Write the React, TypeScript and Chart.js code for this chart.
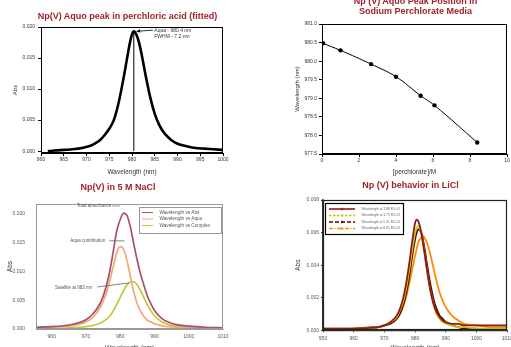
import React, { useEffect, useRef } from "react";
import { Chart, registerables } from "chart.js";
Chart.register(...registerables);

const FONT = "'Liberation Sans', Arial, Helvetica, sans-serif";
const TITLE_RED = "#a0232b";

// ---------- Panel A: Np(V) aquo peak in perchloric acid ----------
const aTitle = "Np(V) Aquo peak in perchloric acid (fitted)";
const aWavelength = [961.5, 963, 965, 967, 969, 970, 971, 972, 973, 974, 975, 976, 977, 978, 979, 979.5, 980, 980.4, 981, 981.5, 982, 983, 984, 985, 986, 987, 988, 989, 990, 992, 994, 996, 998, 1000];
const aAbs = [0.0, 0.0001, 0.0002, 0.0003, 0.0005, 0.0007, 0.0009, 0.0013, 0.0018, 0.0026, 0.0036, 0.005, 0.0076, 0.0112, 0.0153, 0.0173, 0.0188, 0.0193, 0.0187, 0.0176, 0.016, 0.0122, 0.0087, 0.006, 0.0042, 0.003, 0.0022, 0.0016, 0.0012, 0.0008, 0.0005, 0.0004, 0.0003, 0.0002];
const aPeakWavelength = 980.4;
const aPeakAbs = 0.0193;
const aXTicks = [960, 965, 970, 975, 980, 985, 990, 995, 1000];
const aYTicks = [0, 0.005, 0.01, 0.015, 0.02];
const aNote1 = "Aqua - 980.4 nm";
const aNote2 = "FWHM - 7.2 nm";

// ---------- Panel B: peak position vs perchlorate ----------
const bTitle = ["Np (V) Aquo Peak Position in", "Sodium Perchlorate Media"];
const bPerchlorate = [0.05, 1.0, 2.65, 4.0, 5.33, 6.08, 8.39];
const bPeakWavelength = [980.48, 980.29, 979.92, 979.58, 979.07, 978.81, 977.81];
const bXTicks = [0, 2, 4, 6, 8, 10];
const bYTicks = [977.5, 978, 978.5, 979, 979.5, 980, 980.5, 981];

// ---------- Panel C: Np(V) in 5 M NaCl ----------
const cTitle = "Np(V) in 5 M NaCl";
const cWavelength = [955, 960, 965, 968, 970, 972, 974, 975, 976, 977, 978, 979, 980, 981, 982, 983, 984, 985, 986, 987, 988, 989, 990, 992, 994, 996, 1000, 1005, 1010];
const cTotal = [0.0003, 0.0004, 0.0007, 0.0011, 0.0016, 0.0026, 0.0043, 0.0057, 0.0076, 0.0102, 0.0136, 0.0171, 0.019, 0.0201, 0.0197, 0.0176, 0.0146, 0.0118, 0.0094, 0.0074, 0.0056, 0.0043, 0.0032, 0.0019, 0.0012, 0.0008, 0.0005, 0.0003, 0.0002];
const cAqua = [0.0002, 0.0003, 0.0005, 0.0008, 0.0012, 0.002, 0.0036, 0.0048, 0.0064, 0.0085, 0.011, 0.0133, 0.0143, 0.0138, 0.0118, 0.009, 0.0063, 0.0043, 0.003, 0.0021, 0.0015, 0.0012, 0.0009, 0.0006, 0.0004, 0.0003, 0.0002, 0.0001, 0.0001];
const cComplex = [0.0001, 0.0001, 0.0002, 0.0003, 0.0004, 0.0006, 0.001, 0.0013, 0.0017, 0.0023, 0.0032, 0.0043, 0.0055, 0.0067, 0.0077, 0.0082, 0.0082, 0.0076, 0.0066, 0.0053, 0.0041, 0.0031, 0.0023, 0.0013, 0.0008, 0.0005, 0.0003, 0.0002, 0.0001];
const cLabels = ["Wavelength vs Abs", "Wavelength vs Aquo", "Wavelength vs Complex"];
const cColors = ["#a4526e", "#f5a774", "#c3c83a"];
const cXTicks = [960, 970, 980, 990, 1000, 1010];
const cYTicks = [0, 0.005, 0.01, 0.015, 0.02];
const cNotes = ["Total absorbance", "Aqua contribution", "Satellite at 983 nm"];

// ---------- Panel D: Np(V) behavior in LiCl ----------
const dTitle = "Np (V) behavior in LiCl";
const dWavelength = [950, 955, 960, 965, 968, 970, 972, 974, 975, 976, 977, 978, 979, 980, 980.5, 981, 982, 982.5, 983, 984, 985, 986, 987, 988, 989, 990, 992, 994, 996, 1000, 1005, 1010];
const dLiCl188 = [0.0001, 0.0001, 0.0001, 0.00015, 0.0002, 0.0003, 0.0005, 0.0009, 0.0013, 0.0019, 0.0028, 0.004, 0.0054, 0.0066, 0.0068, 0.0067, 0.006, 0.0054, 0.0048, 0.0035, 0.0024, 0.0016, 0.0011, 0.0008, 0.0006, 0.0005, 0.0004, 0.0004, 0.0003, 0.0003, 0.0003, 0.0003];
const dLiCl375 = [0.0001, 0.0001, 0.0001, 0.00015, 0.0002, 0.0003, 0.0005, 0.0008, 0.0012, 0.0017, 0.0025, 0.0036, 0.0049, 0.006, 0.0063, 0.0064, 0.0059, 0.0054, 0.0048, 0.0035, 0.0024, 0.0016, 0.001, 0.0007, 0.0005, 0.0004, 0.0003, 0.0002, 0.0002, 0.0001, 0.0001, 0.0001];
const dLiCl501 = [0.0, 0.0, 0.0001, 0.00015, 0.0002, 0.0003, 0.0004, 0.0007, 0.001, 0.0015, 0.0022, 0.0032, 0.0045, 0.0056, 0.006, 0.0062, 0.006, 0.0056, 0.0051, 0.0039, 0.0028, 0.0019, 0.0013, 0.0009, 0.0007, 0.0005, 0.0003, 0.0002, 0.0001, 0.0001, 0.0, 0.0];
const dLiCl691 = [0.0001, 0.0001, 0.0001, 0.0002, 0.0002, 0.0003, 0.0005, 0.0008, 0.001, 0.0014, 0.002, 0.0028, 0.0037, 0.0046, 0.005, 0.0054, 0.0057, 0.0058, 0.0057, 0.0053, 0.0046, 0.0038, 0.003, 0.0023, 0.0018, 0.0014, 0.0009, 0.0006, 0.0004, 0.0003, 0.0002, 0.0002];
const dLabels = ["Wavelength at 1.88 M LiCl", "Wavelength at 3.75 M LiCl", "Wavelength at 5.01 M LiCl", "Wavelength at 6.91 M LiCl"];
const dColors = ["#8e1b1b", "#c8cc00", "#5c0606", "#ff8a00"];
const dDashes: number[][] = [[], [2.5, 1.5], [4, 2], [4, 1.5, 1, 1.5]];
const dXTicks = [950, 960, 970, 980, 990, 1000, 1010];
const dYTicks = [0, 0.002, 0.004, 0.006, 0.008];

// ---------- helpers ----------
const pts = (xs: number[], ys: number[]) => xs.map((x, i) => ({ x, y: ys[i] }));

type AxisSpec = {
  min: number; max: number; ticks: number[]; decimals: number; title: string;
  size: number; tickLen: number; pad: number; color: string; labelColor: string;
  titleColor: string; titleSize: number; titlePad: number; borderWidth: number; tickSize?: number;
};

function linearAxis(axis: "x" | "y", s: AxisSpec) {
  return {
    type: "linear",
    position: axis === "x" ? "bottom" : "left",
    min: s.min,
    max: s.max,
    afterBuildTicks: (sc: any) => { sc.ticks = s.ticks.map((v) => ({ value: v })); },
    afterFit: (sc: any) => {
      if (axis === "x") sc.height = s.size; else sc.width = s.size;
      sc.paddingLeft = 0; sc.paddingRight = 0; sc.paddingTop = 0; sc.paddingBottom = 0;
    },
    grid: { display: true, drawOnChartArea: false, drawTicks: s.tickLen > 0, tickLength: s.tickLen, color: s.color, lineWidth: 1 },
    border: { display: true, color: s.color, width: s.borderWidth },
    ticks: {
      autoSkip: false, maxRotation: 0, minRotation: 0, padding: s.pad, color: s.labelColor,
      font: { family: FONT, size: s.tickSize ?? 5 },
      callback: (v: any) => Number(v).toFixed(s.decimals),
    },
    title: {
      display: true, text: s.title, color: s.titleColor,
      font: { family: FONT, size: s.titleSize },
      padding: axis === "x" ? { top: 0, bottom: s.titlePad } : { top: s.titlePad, bottom: 0 },
    },
  };
}

const framePlugin = (color: string, width: number) => ({
  id: "frame",
  afterDatasetsDraw(chart: any) {
    const { left, top, right, bottom } = chart.chartArea;
    const ctx = chart.ctx;
    ctx.save();
    ctx.strokeStyle = color;
    ctx.lineWidth = width;
    const l = Math.round(left) + 0.5, t = Math.round(top) + 0.5;
    const r = Math.round(right) - 0.5, b = Math.round(bottom) - 0.5;
    ctx.strokeRect(l, t, r - l, b - t);
    ctx.restore();
  },
});

type Note =
  | { kind: "text"; x: number; y: number; text: string; align: "left" | "center"; size: number; color: string }
  | { kind: "line"; x1: number; y1: number; x2: number; y2: number; color: string; width: number; arrow?: boolean };

const notesPlugin = (notes: Note[]) => ({
  id: "notes",
  afterDatasetsDraw(chart: any) {
    const ctx = chart.ctx;
    const sx = chart.scales.x, sy = chart.scales.y;
    ctx.save();
    for (const n of notes) {
      if (n.kind === "text") {
        ctx.fillStyle = n.color;
        ctx.font = `${n.size}px ${FONT}`;
        ctx.textAlign = n.align;
        ctx.textBaseline = "middle";
        ctx.fillText(n.text, sx.getPixelForValue(n.x), sy.getPixelForValue(n.y));
      } else {
        const x1 = sx.getPixelForValue(n.x1), y1 = sy.getPixelForValue(n.y1);
        const x2 = sx.getPixelForValue(n.x2), y2 = sy.getPixelForValue(n.y2);
        ctx.strokeStyle = n.color;
        ctx.lineWidth = n.width;
        ctx.beginPath(); ctx.moveTo(x1, y1); ctx.lineTo(x2, y2); ctx.stroke();
        if (n.arrow) {
          const ang = Math.atan2(y2 - y1, x2 - x1);
          const L = 4, W = 0.45;
          ctx.fillStyle = n.color;
          ctx.beginPath();
          ctx.moveTo(x2, y2);
          ctx.lineTo(x2 - L * Math.cos(ang - W), y2 - L * Math.sin(ang - W));
          ctx.lineTo(x2 - L * Math.cos(ang + W), y2 - L * Math.sin(ang + W));
          ctx.closePath(); ctx.fill();
        }
      }
    }
    ctx.restore();
  },
});

type LegendSpec = {
  box: { x: number; y: number; w: number; h: number };
  rows: number[]; x1: number; x2: number; textX: number; size: number;
  textColor: string; borderColor: string; borderWidth: number; dashes?: number[][]; lineWidth: number; marker?: boolean;
};

const boxLegendPlugin = (spec: LegendSpec) => ({
  id: "boxLegend",
  afterDraw(chart: any) {
    const ctx = chart.ctx;
    ctx.save();
    const b = spec.box;
    ctx.fillStyle = "#fff";
    ctx.fillRect(b.x, b.y, b.w, b.h);
    ctx.strokeStyle = spec.borderColor;
    ctx.lineWidth = spec.borderWidth;
    ctx.strokeRect(b.x + 0.5, b.y + 0.5, b.w, b.h);
    chart.data.datasets.forEach((ds: any, i: number) => {
      const y = spec.rows[i];
      ctx.strokeStyle = ds.borderColor;
      ctx.lineWidth = spec.lineWidth;
      ctx.setLineDash(spec.dashes ? spec.dashes[i] : []);
      ctx.beginPath(); ctx.moveTo(spec.x1, y); ctx.lineTo(spec.x2, y); ctx.stroke();
      ctx.setLineDash([]);
      if (spec.marker) {
        ctx.beginPath(); ctx.moveTo((spec.x1 + spec.x2) / 2, y - 1.2); ctx.lineTo((spec.x1 + spec.x2) / 2, y + 1.2); ctx.stroke();
      }
      ctx.fillStyle = spec.textColor;
      ctx.font = `${spec.size}px ${FONT}`;
      ctx.textAlign = "left";
      ctx.textBaseline = "middle";
      ctx.fillText(ds.label, spec.textX, y);
    });
    ctx.restore();
  },
});

const baseOptions = (padding: any, scales: any) => ({
  responsive: false,
  animation: false,
  devicePixelRatio: 1,
  layout: { padding },
  plugins: { legend: { display: false }, tooltip: { enabled: false }, title: { display: false } },
  scales,
});

// ---------- chart builders ----------
function buildA() {
  return {
    type: "line",
    data: {
      datasets: [
        { label: "Fit", data: pts(aWavelength, aAbs), borderColor: "#000", borderWidth: 2.6, pointRadius: 0, cubicInterpolationMode: "monotone", fill: false },
        { label: "Peak", data: [{ x: aPeakWavelength, y: 0 }, { x: aPeakWavelength, y: aPeakAbs }], borderColor: "#000", borderWidth: 1, pointRadius: 0, fill: false },
      ],
    },
    options: baseOptions({ left: 10, top: 27, right: 32, bottom: 0 }, {
      x: linearAxis("x", { min: 960, max: 1000, ticks: aXTicks, decimals: 0, title: "Wavelength (nm)", size: 27, tickLen: 3, pad: 1, color: "#000", labelColor: "#333", titleColor: "#333", titleSize: 6.5, titlePad: 3.6, borderWidth: 1 }),
      y: linearAxis("y", { min: -0.0003, max: 0.02, ticks: aYTicks, decimals: 3, title: "Abs", size: 31, tickLen: 3, pad: 3, color: "#000", labelColor: "#333", titleColor: "#333", titleSize: 6, titlePad: 1.4, borderWidth: 1 }),
    }),
    plugins: [
      framePlugin("#000", 1),
      notesPlugin([
        { kind: "line", x1: 984.6, y1: 0.0195, x2: 981.0, y2: 0.0193, color: "#000", width: 0.8, arrow: true },
        { kind: "text", x: 984.9, y: 0.01945, text: aNote1, align: "left", size: 5, color: "#333" },
        { kind: "text", x: 984.9, y: 0.01852, text: aNote2, align: "left", size: 5, color: "#333" },
      ]),
    ],
  };
}

function buildB() {
  return {
    type: "line",
    data: {
      datasets: [
        { label: "Peak position", data: pts(bPerchlorate, bPeakWavelength), borderColor: "#000", backgroundColor: "#000", borderWidth: 1, pointRadius: 2.2, pointBorderWidth: 0, tension: 0.4, fill: false },
      ],
    },
    options: baseOptions({ left: 37, top: 24, right: 3, bottom: 0 }, {
      x: linearAxis("x", { min: 0, max: 10, ticks: bXTicks, decimals: 0, title: "[perchlorate]/M", size: 26, tickLen: 3, pad: 1, color: "#000", labelColor: "#333", titleColor: "#333", titleSize: 6.5, titlePad: 3.6, borderWidth: 1 }),
      y: linearAxis("y", { min: 977.5, max: 981, ticks: bYTicks, decimals: 1, title: "Wavelength (nm)", size: 30, tickLen: 3, pad: 2, color: "#000", labelColor: "#333", titleColor: "#333", titleSize: 6, titlePad: 2.1, borderWidth: 1 }),
    }),
    plugins: [framePlugin("#000", 1)],
  };
}

function buildC() {
  const series = [cTotal, cAqua, cComplex];
  return {
    type: "line",
    data: {
      datasets: series.map((s, i) => ({
        label: cLabels[i], data: pts(cWavelength, s), borderColor: cColors[i], borderWidth: 1.7,
        pointRadius: 0, cubicInterpolationMode: "monotone", fill: false,
      })),
    },
    options: baseOptions({ left: 4, top: 14, right: 32, bottom: 8 }, {
      x: linearAxis("x", { min: 955.4, max: 1010, ticks: cXTicks, decimals: 0, title: "Wavelength (nm)", size: 23, tickLen: 0, pad: 5, color: "#999", labelColor: "#555", titleColor: "#444", titleSize: 6.5, titlePad: 0, borderWidth: 1 }),
      y: linearAxis("y", { min: 0, max: 0.0217, ticks: cYTicks, decimals: 3, title: "Abs", size: 32, tickLen: 0, pad: 11, color: "#999", labelColor: "#555", titleColor: "#333", titleSize: 6.5, titlePad: 2.4, borderWidth: 1 }),
    }),
    plugins: [
      framePlugin("#999", 1),
      notesPlugin([
        { kind: "text", x: 972.4, y: 0.02135, text: cNotes[0], align: "center", size: 4.5, color: "#555" },
        { kind: "line", x1: 977.6, y1: 0.02135, x2: 980, y2: 0.02135, color: "#888", width: 0.8 },
        { kind: "text", x: 970.5, y: 0.0153, text: cNotes[1], align: "center", size: 4.5, color: "#555" },
        { kind: "line", x1: 976.8, y1: 0.0153, x2: 981.2, y2: 0.0153, color: "#666", width: 0.8 },
        { kind: "text", x: 966.4, y: 0.00724, text: cNotes[2], align: "center", size: 4.5, color: "#555" },
        { kind: "line", x1: 973.3, y1: 0.0073, x2: 982.6, y2: 0.008, color: "#666", width: 0.8 },
      ]),
      boxLegendPlugin({
        box: { x: 139, y: 17, w: 82, h: 26 }, rows: [22.5, 29, 35.5], x1: 142, x2: 153, textX: 159.5, size: 4.7,
        textColor: "#555", borderColor: "#999", borderWidth: 1, lineWidth: 1,
      }),
    ],
  };
}

function buildD() {
  const series = [dLiCl188, dLiCl375, dLiCl501, dLiCl691];
  return {
    type: "line",
    data: {
      datasets: series.map((s, i) => ({
        label: dLabels[i], data: pts(dWavelength, s), borderColor: dColors[i], borderWidth: 1.8,
        pointRadius: 0, cubicInterpolationMode: "monotone", fill: false,
      })),
    },
    options: baseOptions({ left: 37, top: 10, right: 3.7, bottom: 8 }, {
      x: linearAxis("x", { min: 950, max: 1010, ticks: dXTicks, decimals: 0, title: "Wavelength (nm)", size: 21.7, tickLen: 2, pad: 3, color: "#333", labelColor: "#555", titleColor: "#444", titleSize: 6.5, titlePad: 0, borderWidth: 1.2 }),
      y: linearAxis("y", { min: 0, max: 0.008, ticks: dYTicks, decimals: 3, title: "Abs", size: 31, tickLen: 2, pad: 2, color: "#333", labelColor: "#555", titleColor: "#444", titleSize: 6.5, titlePad: 2.1, borderWidth: 1.5 }),
    }),
    plugins: [
      framePlugin("#222", 1.2),
      boxLegendPlugin({
        box: { x: 70, y: 13, w: 78, h: 31 }, rows: [19, 25.5, 32, 38.5], x1: 74, x2: 100, textX: 106.5, size: 3.3,
        textColor: "#666", borderColor: "#000", borderWidth: 1.2, dashes: dDashes, lineWidth: 1.6, marker: true,
      }),
    ],
  };
}

function ChartCanvas(props: { left: number; top: number; width: number; height: number; build: () => any }) {
  const ref = useRef<HTMLCanvasElement>(null);
  useEffect(() => {
    const chart = new Chart(ref.current as HTMLCanvasElement, props.build());
    return () => chart.destroy();
  }, []);
  return (
    <canvas
      ref={ref}
      width={props.width}
      height={props.height}
      style={{ position: "absolute", left: props.left, top: props.top, width: props.width, height: props.height }}
    />
  );
}

const titleStyle = (cx: number, top: number, lh: number): React.CSSProperties => ({
  position: "absolute", left: cx - 150, top, width: 300, textAlign: "center",
  fontFamily: FONT, fontWeight: "bold", fontSize: 9, lineHeight: `${lh}px`, color: TITLE_RED, whiteSpace: "nowrap",
});

export default function App() {
  return (
    <div style={{ position: "fixed", left: 0, top: 0, width: 511, height: 347, overflow: "hidden", background: "#fff" }}>
      <ChartCanvas left={0} top={0} width={255} height={180} build={buildA} />
      <ChartCanvas left={255} top={0} width={256} height={180} build={buildB} />
      <ChartCanvas left={0} top={190} width={255} height={170} build={buildC} />
      <ChartCanvas left={255} top={190} width={256} height={170} build={buildD} />
      <div style={titleStyle(127.5, 11.4, 10)}>{aTitle}</div>
      <div style={titleStyle(415.5, -4.3, 10.5)}>
        {bTitle[0]}
        <br />
        {bTitle[1]}
      </div>
      <div style={titleStyle(118, 182.4, 10)}>{cTitle}</div>
      <div style={titleStyle(410.5, 180.4, 10)}>{dTitle}</div>
    </div>
  );
}
